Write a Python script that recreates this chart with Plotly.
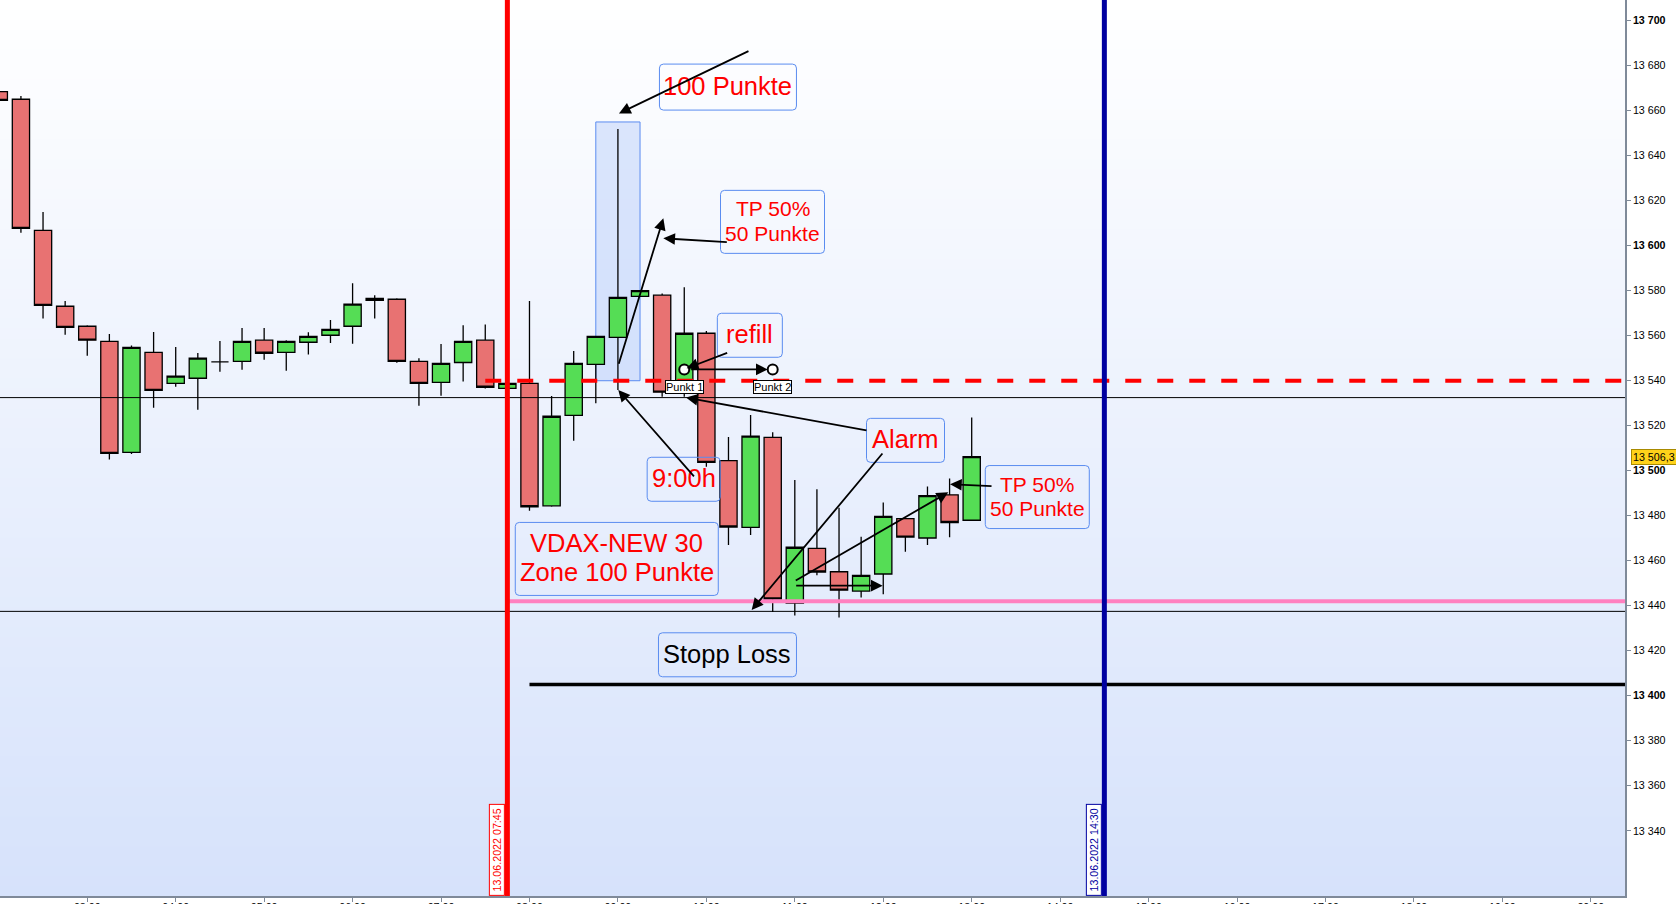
import plotly.graph_objects as go

DAY = "2022-06-13"

# ---------------- data ----------------
candle_times = ["02:00", "02:15", "02:30", "02:45", "03:00", "03:15", "03:30", "03:45",
                "04:00", "04:15", "04:30", "04:45", "05:00", "05:15", "05:30", "05:45",
                "06:00", "06:15", "06:30", "06:45", "07:00", "07:15", "07:30", "07:45",
                "08:00", "08:15", "08:30", "08:45", "09:00", "09:15", "09:30", "09:45",
                "10:00", "10:15", "10:30", "10:45", "11:00", "11:15", "11:30", "11:45",
                "12:00", "12:15", "12:30", "12:45", "13:00"]
candle_open = [13668.5, 13665.1, 13606.8, 13573.1, 13564.2, 13557.5, 13508.2, 13552.6,
               13538.8, 13541.1, 13548.4, 13548.6, 13558.0, 13552.6, 13557.1, 13560.2,
               13564.2, 13575.7, 13576.2, 13548.6, 13539.3, 13548.1, 13558.0, 13536.6,
               13538.8, 13484.4, 13524.6, 13547.3, 13559.3, 13577.5, 13578.0, 13534.4,
               13561.1, 13504.5, 13474.8, 13514.8, 13441.2, 13465.5, 13455.1, 13446.5,
               13454.1, 13478.7, 13470.1, 13489.3, 13478.0]
candle_high = [13670.0, 13666.5, 13615.0, 13575.4, 13564.6, 13560.8, 13555.7, 13561.6,
               13555.0, 13552.3, 13557.6, 13563.4, 13563.4, 13558.0, 13561.5, 13567.0,
               13583.3, 13578.0, 13576.6, 13550.0, 13556.3, 13564.6, 13565.0, 13539.5,
               13575.4, 13533.2, 13553.2, 13560.0, 13651.9, 13580.0, 13578.8, 13581.5,
               13562.1, 13515.0, 13524.8, 13517.1, 13495.9, 13491.8, 13483.6, 13470.7,
               13485.9, 13478.7, 13493.0, 13496.6, 13523.7]
candle_low = [13664.0, 13605.8, 13567.6, 13560.4, 13551.1, 13505.0, 13507.4, 13528.0,
              13537.3, 13527.1, 13544.0, 13544.9, 13549.3, 13544.4, 13551.6, 13556.8,
              13556.4, 13567.6, 13548.0, 13528.9, 13533.3, 13539.6, 13536.5, 13536.0,
              13482.2, 13484.0, 13513.3, 13530.0, 13535.9, 13577.5, 13532.9, 13532.9,
              13501.8, 13467.0, 13471.4, 13437.2, 13435.7, 13453.6, 13434.8, 13443.7,
              13445.1, 13464.0, 13467.0, 13470.4, 13478.0]
candle_close = [13664.6, 13607.7, 13573.5, 13563.7, 13558.0, 13507.7, 13554.8, 13535.7,
                13542.0, 13550.0, 13548.4, 13557.5, 13552.2, 13557.5, 13559.7, 13562.8,
                13574.0, 13576.6, 13548.6, 13538.8, 13547.7, 13557.5, 13537.1, 13538.8,
                13484.0, 13524.2, 13547.7, 13559.7, 13577.0, 13580.0, 13534.9, 13561.1,
                13503.7, 13475.0, 13515.4, 13443.0, 13466.0, 13455.0, 13446.9, 13453.5,
                13479.7, 13470.5, 13488.9, 13477.0, 13506.3]

price_ticks = [13340, 13360, 13380, 13400, 13420, 13440, 13460, 13480, 13500, 13520,
               13540, 13560, 13580, 13600, 13620, 13640, 13660, 13680, 13700]
price_tick_labels = ["13 340", "13 360", "13 380", "<b>13 400</b>", "13 420", "13 440",
                     "13 460", "13 480", "<b>13 500</b>", "13 520", "13 540", "13 560",
                     "13 580", "<b>13 600</b>", "13 620", "13 640", "13 660", "13 680",
                     "<b>13 700</b>"]
hour_ticks = ["02:00", "03:00", "04:00", "05:00", "06:00", "07:00", "08:00", "09:00",
              "10:00", "11:00", "12:00", "13:00", "14:00", "15:00", "16:00", "17:00",
              "18:00", "19:00", "20:00"]

punkt_times = ["09:45", "10:45"]
punkt_prices = [13545, 13545]
punkt_labels = ["Punkt 1", "Punkt 2"]

last_price = 13506.3
last_price_label = "13 506,3"

session_start = "07:45"
session_end = "14:30"
session_start_label = "13.06.2022 07:45"
session_end_label = "13.06.2022 14:30"
dashed_level = 13540
dashed_from = "07:30"
pink_level = 13442
stop_level = 13405
stop_from = "08:00"
thin_levels = [13532.5, 13437.5]
zone_times = ["08:45", "09:15"]
zone_prices = [13540, 13655]


def T(hm):
    return f"{DAY} {hm}" if len(hm) > 5 else f"{DAY} {hm}:00"


FONT = "Arial, Liberation Sans, sans-serif"
RED = "#ff0000"
BOXC = "#5a8cf0"

fig = go.Figure()

fig.add_trace(go.Candlestick(
    x=[T(t) for t in candle_times],
    open=candle_open, high=candle_high, low=candle_low, close=candle_close,
    increasing=dict(fillcolor="#55dd55", line=dict(color="black", width=1.3)),
    decreasing=dict(fillcolor="#e87272", line=dict(color="black", width=1.3)),
    whiskerwidth=0, hoverinfo="skip", showlegend=False,
))

fig.add_trace(go.Scatter(
    x=[T(t) for t in punkt_times], y=punkt_prices, mode="markers",
    marker=dict(size=10, color="white", line=dict(color="black", width=2)),
    hoverinfo="skip", showlegend=False,
))

# ---------------- shapes ----------------
shapes = []
N = 90
top = (255, 255, 255)
bot = (214, 226, 251)
for i in range(N):
    f = (i + 0.5) / N
    c = tuple(round(top[k] + (bot[k] - top[k]) * f) for k in range(3))
    shapes.append(dict(type="rect", xref="paper", yref="paper", x0=0, x1=1,
                       y0=max(0, 1 - (i + 1) / N - 0.002), y1=1 - i / N,
                       fillcolor="rgb(%d,%d,%d)" % c, line=dict(width=0), layer="below"))

shapes.append(dict(type="rect", xref="x", yref="y", x0=T(zone_times[0]), x1=T(zone_times[1]),
                   y0=zone_prices[0], y1=zone_prices[1], fillcolor="rgba(160,190,250,0.35)",
                   line=dict(color=BOXC, width=1), layer="below"))

X_END = T("21:30")
X_BEG = T("01:00")
for lv in thin_levels:
    shapes.append(dict(type="line", xref="x", yref="y", x0=X_BEG, x1=X_END, y0=lv, y1=lv,
                       line=dict(color="black", width=1), layer="above"))
shapes.append(dict(type="line", xref="x", yref="y", x0=T(dashed_from), x1=X_END,
                   y0=dashed_level, y1=dashed_level,
                   line=dict(color=RED, width=4, dash="16px,16px"), layer="above"))
shapes.append(dict(type="line", xref="x", yref="y", x0=T(session_start), x1=X_END,
                   y0=pink_level, y1=pink_level,
                   line=dict(color="#ff80c0", width=4), layer="above"))
shapes.append(dict(type="line", xref="x", yref="y", x0=T(stop_from), x1=X_END,
                   y0=stop_level, y1=stop_level,
                   line=dict(color="black", width=3.5), layer="above"))
shapes.append(dict(type="line", xref="x", yref="paper", x0=T(session_start), x1=T(session_start),
                   y0=0, y1=1, line=dict(color=RED, width=5), layer="above"))
shapes.append(dict(type="line", xref="x", yref="paper", x0=T(session_end), x1=T(session_end),
                   y0=0, y1=1, line=dict(color="#0000a0", width=5), layer="above"))

# ---------------- annotations ----------------
ann = []


def rounded_path(w, h, r=4):
    a, b = w / 2.0, h / 2.0
    return (f"M{-a + r},{-b} L{a - r},{-b} Q{a},{-b} {a},{-b + r} L{a},{b - r} "
            f"Q{a},{b} {a - r},{b} L{-a + r},{b} Q{-a},{b} {-a},{b - r} "
            f"L{-a},{-b + r} Q{-a},{-b} {-a + r},{-b} Z")


def box(lines, t, p, w, h, size, step, color=RED):
    shapes.append(dict(type="path", xref="x", yref="y", xsizemode="pixel", ysizemode="pixel",
                       xanchor=T(t), yanchor=p, path=rounded_path(w, h),
                       fillcolor="rgba(0,0,0,0)", line=dict(color=BOXC, width=1),
                       layer="above"))
    n = len(lines)
    for k, txt in enumerate(lines):
        off = (k - (n - 1) / 2.0) * step
        ann.append(dict(text=txt, x=T(t), y=p, xref="x", yref="y", showarrow=False,
                        yshift=-off + 1, xanchor="center", yanchor="middle",
                        font=dict(family=FONT, size=size, color=color)))


def arrow(t, p, ax, ay, standoff=0, startstandoff=0):
    ann.append(dict(text="", x=T(t), y=p, xref="x", yref="y", showarrow=True,
                    ax=ax, ay=ay, axref="pixel", ayref="pixel",
                    arrowhead=2, arrowsize=1.3, arrowwidth=1.8, arrowcolor="black",
                    standoff=standoff, startstandoff=startstandoff))


box(["100 Punkte"], "10:14:38", 13670.5, 137, 46, 25.5, 0)
box(["TP 50%", "50 Punkte"], "10:44:52", 13610.6, 104, 63, 21, 25)
box(["refill"], "10:29:29", 13560.2, 65, 44, 25.5, 0)
box(["9:00h"], "09:44:36", 13496.2, 73, 44, 25.5, 0)
box(["Alarm"], "12:15:06", 13513.5, 78, 44, 25.5, 0)
box(["TP 50%", "50 Punkte"], "13:44:30", 13488.3, 104, 63, 21, 24)
box(["VDAX-NEW 30", "Zone 100 Punkte"], "08:59:13", 13460.8, 203, 73, 25.5, 29)
box(["Stopp Loss"], "10:14:19", 13418.2, 138, 44, 25.5, 0, color="black")

arrow("09:00:42", 13658.8, 131, -63)
arrow("09:30:48", 13603.3, 65, 4)
arrow("09:30:48", 13612.2, -45, 147)
arrow("09:46:38", 13545.5, 42, -16)
arrow(punkt_times[1], punkt_prices[1], -88, 0, standoff=5, startstandoff=5)
arrow("09:00:14", 13535.9, 77, 88)
arrow("09:46:10", 13532.5, 182, 33)
arrow("10:30:44", 13438.1, 132, -158)
arrow("12:44:06", 13490.4, -154, 89)
arrow("11:59:36", 13448.9, -88, 0)
arrow("12:45:18", 13494.0, 43, 2)

for t, p, lab in zip(punkt_times, punkt_prices, punkt_labels):
    ann.append(dict(text=lab, x=T(t), y=p, xref="x", yref="y", showarrow=False,
                    yshift=-17.5, bgcolor="white", bordercolor="black", borderwidth=1,
                    borderpad=0, font=dict(family=FONT, size=11, color="black")))

for t, lab, col in [(session_start, session_start_label, RED),
                    (session_end, session_end_label, "#0000a0")]:
    ann.append(dict(text=lab, x=T(t), y=0, xref="x", yref="paper", xanchor="right",
                    yanchor="bottom", xshift=-2.5, textangle=-90, showarrow=False,
                    bgcolor="white", bordercolor=col, borderwidth=1, borderpad=1,
                    width=88, font=dict(family=FONT, size=10.7, color=col)))

ann.append(dict(text=last_price_label, x=1, y=last_price, xref="paper", yref="y",
                xanchor="left", xshift=6, showarrow=False, bgcolor="#ffd21a",
                bordercolor="#a88a00", borderwidth=1, borderpad=1,
                font=dict(family=FONT, size=10.7, color="black")))

AXC = "#7f8a99"
fig.update_layout(
    width=1676, height=904,
    margin=dict(l=0, r=51, t=0, b=8, pad=0),
    paper_bgcolor="white", plot_bgcolor="#eef3fe",
    showlegend=False, hovermode=False, boxgap=0.22, boxgroupgap=0,
    font=dict(family=FONT, size=11, color="black"),
    shapes=shapes, annotations=ann,
    xaxis=dict(type="date", range=[T("02:00:48"), T("20:23:12")],
               tickvals=[T(h) for h in hour_ticks], ticktext=hour_ticks,
               ticks="outside", ticklen=4, tickcolor=AXC, showline=True, linecolor=AXC,
               linewidth=1.5, showgrid=False, zeroline=False, automargin=False,
               ticklabelstandoff=-4,
               rangeslider=dict(visible=False), tickfont=dict(size=10.7, color="black")),
    yaxis=dict(side="right", range=[13311.0, 13709.2], tickvals=price_ticks,
               ticktext=price_tick_labels, ticks="outside", ticklen=4, tickcolor=AXC,
               showline=True, linecolor=AXC, linewidth=1.5, showgrid=False,
               zeroline=False, automargin=False, tickfont=dict(size=10.7, color="black")),
)

fig.write_html("out.html", config={"displayModeBar": False},
               post_script="document.body.style.margin='0';document.body.style.overflow='hidden';")
